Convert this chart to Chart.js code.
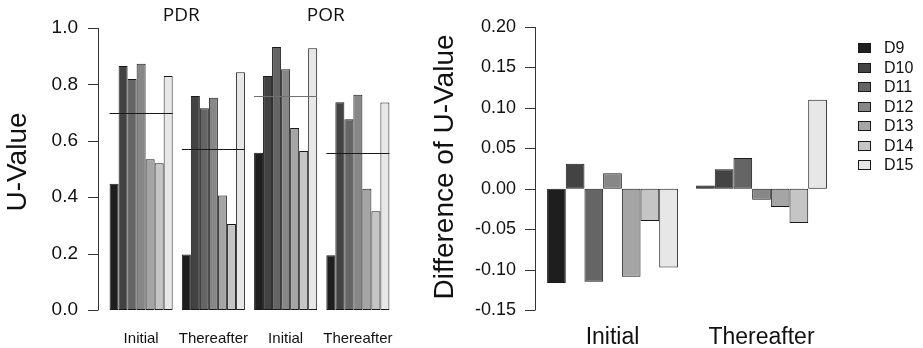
<!DOCTYPE html>
<html>
<head>
<meta charset="utf-8">
<script src="https://cdn.jsdelivr.net/npm/chart.js@4/dist/chart.umd.min.js"></script>
<style>
  body { margin: 0; background: #fff; }
  #left  { position: absolute; left: 0;     top: 0; width: 420px; height: 348px; }
  #right { position: absolute; left: 420px; top: 0; width: 503px; height: 348px; }
</style>
</head>
<body>
<div id="left"><canvas id="uChart"></canvas></div>
<div id="right"><canvas id="diffChart"></canvas></div>
<script>
// series and groups
const series = ['D9', 'D10', 'D11', 'D12', 'D13', 'D14', 'D15'];
const uGroups = ['Initial', 'Thereafter', 'Initial', 'Thereafter'];
const uPanels = ['PDR', 'POR'];
const diffGroups = ['Initial', 'Thereafter'];

// U-values: PDR Initial, PDR Thereafter, POR Initial, POR Thereafter
const uD9  = [0.448, 0.197, 0.558, 0.194];
const uD10 = [0.865, 0.759, 0.830, 0.737];
const uD11 = [0.819, 0.715, 0.933, 0.676];
const uD12 = [0.873, 0.753, 0.854, 0.763];
const uD13 = [0.535, 0.406, 0.645, 0.430];
const uD14 = [0.520, 0.305, 0.564, 0.350];
const uD15 = [0.830, 0.843, 0.928, 0.736];
const uMean = [0.698, 0.571, 0.759, 0.555];

// difference of U-value: Initial, Thereafter
const diffD9  = [-0.1165, 0.004];
const diffD10 = [0.031, 0.024];
const diffD11 = [-0.115, 0.038];
const diffD12 = [0.019, -0.0135];
const diffD13 = [-0.109, -0.0225];
const diffD14 = [-0.040, -0.0425];
const diffD15 = [-0.0975, 0.110];

const uTicks = [0, 0.2, 0.4, 0.6, 0.8, 1.0];
const diffTicks = [-0.15, -0.10, -0.05, 0, 0.05, 0.10, 0.15, 0.20];

const greys = ['#1e1e1e', '#434343', '#656565', '#878787', '#a5a5a5', '#c5c5c5', '#e7e7e7'];
const meanColors = ['#1a1a1a', '#1a1a1a', '#707070', '#1a1a1a'];
const FONT = "'Liberation Sans', Arial, sans-serif";

function makeSets(rows) {
  return rows.map((data, i) => ({
    label: series[i],
    data,
    backgroundColor: greys[i],
    borderColor: '#1a1a1a',
    borderWidth: 1,
    borderSkipped: false
  }));
}

// no label overhang padding, so the plot area is where the layout says
function fixSize(w, h) {
  return s => {
    if (w) s.width = w;
    if (h) s.height = h;
    s.paddingTop = s.paddingBottom = s.paddingLeft = s.paddingRight = 0;
  };
}

// R-style y axis: line from first to last tick, set apart from the plot area
const rAxis = {
  id: 'rAxis',
  afterDraw(chart, args, o) {
    const { ctx, chartArea } = chart;
    const y = chart.scales.y;
    const x0 = chartArea.left - o.offset;
    ctx.save();
    ctx.strokeStyle = '#333';
    ctx.lineWidth = 1;
    ctx.beginPath();
    ctx.moveTo(x0 + 0.5, y.getPixelForValue(o.ticks[0]));
    ctx.lineTo(x0 + 0.5, y.getPixelForValue(o.ticks[o.ticks.length - 1]));
    o.ticks.forEach(t => {
      const py = Math.round(y.getPixelForValue(t)) + 0.5;
      ctx.moveTo(x0 + 0.5, py);
      ctx.lineTo(x0 - o.len, py);
    });
    ctx.stroke();
    // axis title
    ctx.fillStyle = '#111';
    ctx.font = o.titleFont;
    ctx.textAlign = 'center';
    ctx.textBaseline = 'middle';
    ctx.translate(o.titleX, o.titleY);
    ctx.rotate(-Math.PI / 2);
    ctx.fillText(o.title, 0, 0);
    ctx.restore();
  }
};

// mean lines and panel headers for the U-value chart
const uExtras = {
  id: 'uExtras',
  afterDatasetsDraw(chart) {
    const { ctx } = chart;
    const y = chart.scales.y;
    const x = chart.scales.x;
    const first = chart.getDatasetMeta(0).data;
    const last = chart.getDatasetMeta(series.length - 1).data;
    ctx.save();
    ctx.lineWidth = 1;
    uMean.forEach((m, i) => {
      const py = Math.round(y.getPixelForValue(m)) + 0.5;
      ctx.strokeStyle = meanColors[i];
      ctx.beginPath();
      ctx.moveTo(first[i].x - first[i].width / 2, py);
      ctx.lineTo(last[i].x + last[i].width / 2, py);
      ctx.stroke();
    });
    ctx.fillStyle = '#111';
    ctx.font = "19px 'Open Sans', sans-serif";
    ctx.textAlign = 'center';
    ctx.textBaseline = 'middle';
    uPanels.forEach((p, k) => {
      const cx = (x.getPixelForValue(2 * k) + x.getPixelForValue(2 * k + 1)) / 2 + 4;
      ctx.fillText(p, cx, 16);
    });
    ctx.restore();
  }
};

// legend for the difference chart
const diffLegend = {
  id: 'diffLegend',
  afterDraw(chart) {
    const { ctx } = chart;
    ctx.save();
    ctx.font = '16px ' + FONT;
    ctx.textBaseline = 'middle';
    ctx.textAlign = 'left';
    series.forEach((s, i) => {
      const cy = 48 + i * 19.5;
      ctx.fillStyle = greys[i];
      ctx.fillRect(438, Math.round(cy - 5), 13, 10);
      ctx.strokeStyle = '#1a1a1a';
      ctx.strokeRect(438.5, Math.round(cy - 5) + 0.5, 12, 9);
      ctx.fillStyle = '#111';
      ctx.fillText(s, 464, cy + 1);
    });
    ctx.restore();
  }
};

Chart.defaults.font.family = FONT;
Chart.defaults.color = '#111';

new Chart(document.getElementById('uChart'), {
  type: 'bar',
  data: {
    labels: uGroups,
    datasets: makeSets([uD9, uD10, uD11, uD12, uD13, uD14, uD15])
  },
  options: {
    responsive: true,
    maintainAspectRatio: false,
    animation: false,
    layout: { padding: { top: 28, right: 26, left: 0, bottom: 0 } },
    datasets: { bar: { categoryPercentage: 0.873, barPercentage: 1 } },
    plugins: {
      legend: { display: false },
      tooltip: { enabled: false },
      rAxis: { offset: 7, len: 10, ticks: uTicks, title: 'U-Value',
               titleFont: '28px ' + FONT, titleX: 18, titleY: 162 }
    },
    scales: {
      x: {
        grid: { display: false, drawTicks: false },
        border: { display: false },
        ticks: { font: { size: 15 }, padding: 20, maxRotation: 0 },
        afterFit: fixSize(0, 38)
      },
      y: {
        min: 0, max: 1,
        grid: { display: false, drawTicks: false },
        border: { display: false },
        afterBuildTicks: s => { s.ticks = uTicks.map(v => ({ value: v })); },
        ticks: { font: { size: 19 }, padding: 27, callback: v => v.toFixed(1) },
        afterFit: fixSize(105, 0)
      }
    }
  },
  plugins: [rAxis, uExtras]
});

new Chart(document.getElementById('diffChart'), {
  type: 'bar',
  data: {
    labels: diffGroups,
    datasets: makeSets([diffD9, diffD10, diffD11, diffD12, diffD13, diffD14, diffD15])
  },
  options: {
    responsive: true,
    maintainAspectRatio: false,
    animation: false,
    layout: { padding: { top: 27, right: 87, left: 0, bottom: 0 } },
    datasets: { bar: { categoryPercentage: 0.878, barPercentage: 1 } },
    plugins: {
      legend: { display: false },
      tooltip: { enabled: false },
      rAxis: { offset: 3, len: 10, ticks: diffTicks, title: 'Difference of U-Value',
               titleFont: '28px ' + FONT, titleX: 25, titleY: 167 }
    },
    scales: {
      x: {
        grid: { display: false, drawTicks: false },
        border: { display: false },
        ticks: { font: { size: 23 }, padding: 14, maxRotation: 0 },
        afterFit: fixSize(0, 38)
      },
      y: {
        min: -0.15, max: 0.20,
        grid: { display: false, drawTicks: false },
        border: { display: false },
        afterBuildTicks: s => { s.ticks = diffTicks.map(v => ({ value: v })); },
        ticks: { font: { size: 18 }, padding: 22, callback: v => v.toFixed(2) },
        afterFit: fixSize(118, 0)
      }
    }
  },
  plugins: [rAxis, diffLegend]
});
</script>
</body>
</html>
